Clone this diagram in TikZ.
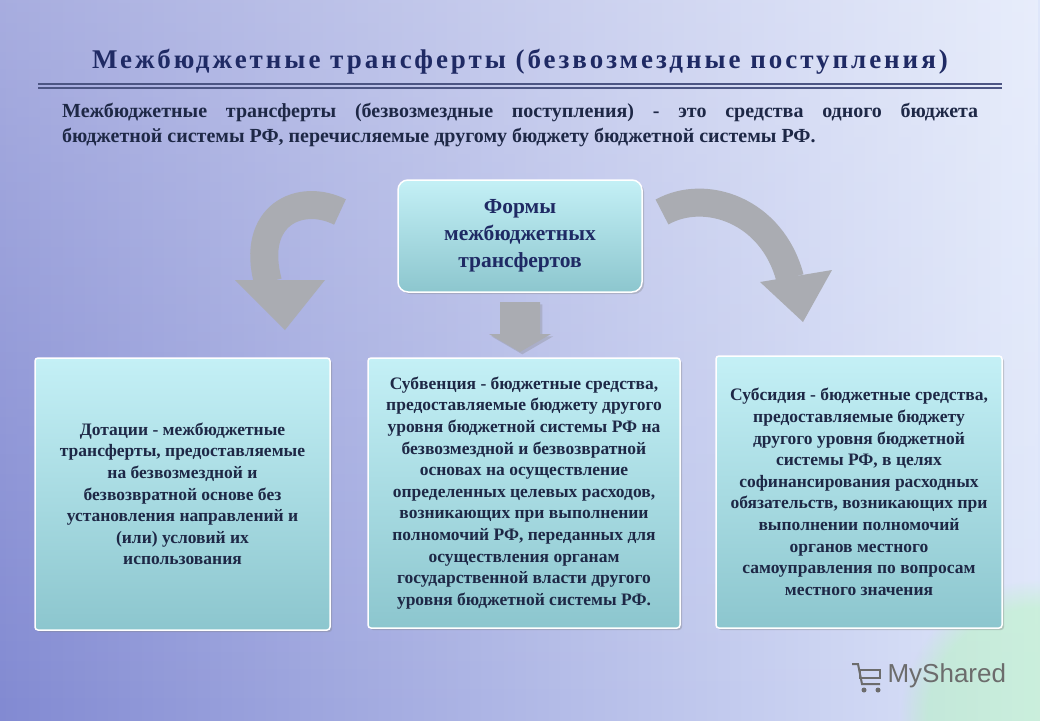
\documentclass[tikz,border=0pt]{standalone}
\usepackage{fontspec}
\setmainfont{Liberation Serif}
\setsansfont{Liberation Sans}
\usetikzlibrary{shadows,fadings,arrows.meta}
\definecolor{navy}{RGB}{31,42,100}
\definecolor{boxtxt}{RGB}{30,40,70}
\definecolor{bgl}{RGB}{130,138,210}
\definecolor{bgr}{RGB}{222,230,250}
\definecolor{cyt}{RGB}{196,240,246}
\definecolor{cyb}{RGB}{140,198,206}
\definecolor{arrg}{RGB}{170,172,178}
\tikzset{
  infobox/.style={draw=white, line width=1.5pt, rounded corners=3pt, top color=cyt, bottom color=cyb,
    drop shadow={shadow xshift=2pt,shadow yshift=-2pt,opacity=0.35}, align=center, text=boxtxt,
    font=\bfseries\fontsize{17.5}{21.6}\selectfont, inner sep=2pt},
  curvearr/.style={draw=arrg, line width=28pt},
  arrhead/.style={fill=arrg, draw=none}
}
\begin{document}
\begin{tikzpicture}[x=1pt,y=-1pt]
\useasboundingbox (0,0) rectangle (1040,720);
\shade[left color=bgl, right color=bgr] (0,0) rectangle (1040,720);
\fill[white, opacity=0.3, path fading=south] (0,0) rectangle (1040,720);
\fill[green!35!white, opacity=0.35, path fading=circle with fuzzy edge 20 percent] (1040,720) circle (140);
% title
\node (title) [font=\bfseries\fontsize{27}{30}\selectfont\addfontfeature{LetterSpace=11}, text=navy] at (520,62) {Межбюджетные трансферты (безвозмездные поступления)};
\coordinate (l1) at (38,84); \coordinate (l2) at (1002,84);
\draw[navy!80, line width=1.2pt] (l1) -- (l2);
\draw[navy!80, line width=1.2pt] ([yshift=-4pt]l1) -- ([yshift=-4pt]l2);
\node (para) [anchor=north west, text width=916pt, align=justify, inner sep=0pt, text=boxtxt,
  font=\bfseries\fontsize{20}{25}\selectfont] at (62,103) {Межбюджетные трансферты (безвозмездные поступления) - это средства одного бюджета\linebreak бюджетной системы РФ, перечисляемые другому бюджету бюджетной системы РФ.};
% top box
\node (forms) [infobox, minimum width=244pt, minimum height=112pt, rounded corners=10pt,
  font=\bfseries\fontsize{21.5}{27}\selectfont, text=navy] at (520,236) {Формы\\межбюджетных\\трансфертов};
% down arrow
\coordinate (da) at (520,302);
\fill[arrg, drop shadow={opacity=0.3}] (500,302) -- (540,302) -- (540,334) -- (551,334) -- (520,352) -- (489,334) -- (500,334) -- cycle;
% boxes
\node (dot) [infobox, minimum width=295pt, minimum height=272pt] at (182.5,494) {Дотации - межбюджетные\\трансферты, предоставляемые\\на безвозмездной и\\безвозвратной основе без\\установления направлений и\\(или) условий их\\использования};
\node (sub) [infobox, minimum width=312pt, minimum height=270pt] at (524,493) {Субвенция - бюджетные средства,\\предоставляемые бюджету другого\\уровня бюджетной системы РФ на\\безвозмездной и безвозвратной\\основах на осуществление\\определенных целевых расходов,\\возникающих при выполнении\\полномочий РФ, переданных для\\осуществления органам\\государственной власти другого\\уровня бюджетной системы РФ.};
\node (sbs) [infobox, minimum width=286pt, minimum height=272pt] at (859,492) {Субсидия - бюджетные средства,\\предоставляемые бюджету\\другого уровня бюджетной\\системы РФ, в целях\\софинансирования расходных\\обязательств, возникающих при\\выполнении полномочий\\органов местного\\самоуправления по вопросам\\местного значения};
% curved arrows
\draw[curvearr] (340,212) .. controls (300,192) and (250,215) .. (268,282);
\fill[arrhead] (235,280) -- (325,280) -- (285,330) -- cycle;
\draw[curvearr] (662,212) .. controls (705,188) and (772,210) .. (790,278);
\fill[arrhead] (760,282) -- (832,270) -- (803,322) -- cycle;
% logo
\node (logo) [font=\sffamily\fontsize{26}{28}\selectfont, text=gray!85!black, anchor=west] at (884,676) {MyShared};
\draw[gray!85!black, line width=2pt] (852,664) -- (858,664) -- (862,684) -- (880,684);
\draw[gray!85!black, line width=2pt] (860,670) rectangle (880,678);
\fill[gray!85!black] (864,690) circle (2.5) (878,690) circle (2.5);
\end{tikzpicture}
\end{document}
